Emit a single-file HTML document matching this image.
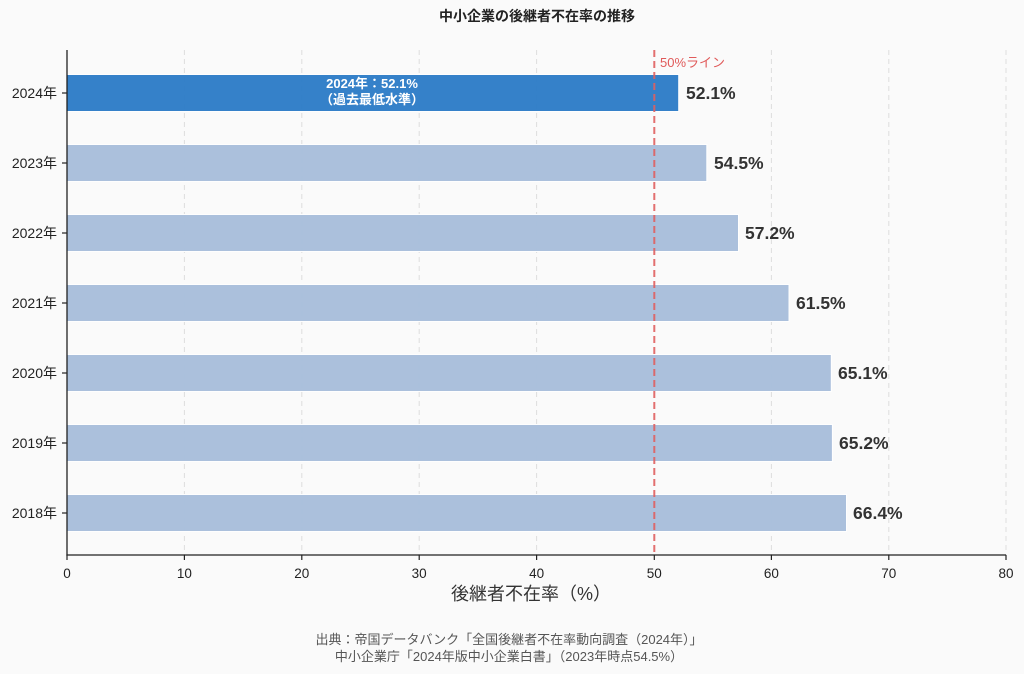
<!DOCTYPE html>
<html>
<head>
<meta charset="utf-8">
<style>
html,body{margin:0;padding:0;background:#fafafa;}
svg{display:block;}
text{font-family:"Liberation Sans","Noto Sans CJK JP",sans-serif;}
</style>
</head>
<body>
<svg width="1024" height="674" viewBox="0 0 1024 674" xmlns="http://www.w3.org/2000/svg">
<rect width="1024" height="674" fill="#fafafa"/>
<!-- title -->
<text x="537" y="21" text-anchor="middle" font-size="14" font-weight="bold" fill="#222">中小企業の後継者不在率の推移</text>

<!-- grid -->
<g stroke="#dddddd" stroke-width="1" stroke-dasharray="5,4">
<line x1="184.4" y1="50" x2="184.4" y2="555"/>
<line x1="301.8" y1="50" x2="301.8" y2="555"/>
<line x1="419.2" y1="50" x2="419.2" y2="555"/>
<line x1="536.6" y1="50" x2="536.6" y2="555"/>
<line x1="771.4" y1="50" x2="771.4" y2="555"/>
<line x1="888.8" y1="50" x2="888.8" y2="555"/>
<line x1="1006" y1="50" x2="1006" y2="555"/>
</g>

<!-- bars -->
<g stroke="#ffffff" stroke-width="1" opacity="0.97">
<rect x="67" y="74.5" width="611.7" height="37" fill="#2f7ec8"/>
<rect x="67" y="144.5" width="639.8" height="37" fill="#a9bfdc"/>
<rect x="67" y="214.5" width="671.5" height="37" fill="#a9bfdc"/>
<rect x="67" y="284.5" width="722.0" height="37" fill="#a9bfdc"/>
<rect x="67" y="354.5" width="764.3" height="37" fill="#a9bfdc"/>
<rect x="67" y="424.5" width="765.4" height="37" fill="#a9bfdc"/>
<rect x="67" y="494.5" width="779.5" height="37" fill="#a9bfdc"/>
</g>

<!-- 50% line -->
<line x1="654.3" y1="50" x2="654.3" y2="555" stroke="#e06060" stroke-width="2" stroke-dasharray="7,4" opacity="0.9"/>
<text x="660" y="67" font-size="13" fill="#e05a5a">50%ライン</text>

<!-- in-bar label -->
<text x="372" y="88" text-anchor="middle" font-size="13" font-weight="bold" fill="#ffffff">2024年：52.1%</text>
<text x="372" y="104" text-anchor="middle" font-size="13" font-weight="bold" fill="#ffffff">（過去最低水準）</text>

<!-- value labels -->
<g font-size="17.5" font-weight="bold" fill="#333">
<text x="686" y="99">52.1%</text>
<text x="714" y="169">54.5%</text>
<text x="745" y="239">57.2%</text>
<text x="796" y="309">61.5%</text>
<text x="838" y="379">65.1%</text>
<text x="839" y="449">65.2%</text>
<text x="853" y="519">66.4%</text>
</g>

<!-- spines -->
<line x1="67" y1="50" x2="67" y2="555.5" stroke="#222" stroke-width="1.3"/>
<line x1="66.4" y1="555" x2="1006" y2="555" stroke="#222" stroke-width="1.3"/>

<!-- y ticks -->
<g stroke="#222" stroke-width="1.2">
<line x1="62" y1="93" x2="67" y2="93"/>
<line x1="62" y1="163" x2="67" y2="163"/>
<line x1="62" y1="233" x2="67" y2="233"/>
<line x1="62" y1="303" x2="67" y2="303"/>
<line x1="62" y1="373" x2="67" y2="373"/>
<line x1="62" y1="443" x2="67" y2="443"/>
<line x1="62" y1="513" x2="67" y2="513"/>
</g>
<g font-size="14" fill="#222" text-anchor="end">
<text x="57" y="98">2024年</text>
<text x="57" y="168">2023年</text>
<text x="57" y="238">2022年</text>
<text x="57" y="308">2021年</text>
<text x="57" y="378">2020年</text>
<text x="57" y="448">2019年</text>
<text x="57" y="518">2018年</text>
</g>

<!-- x ticks -->
<g stroke="#222" stroke-width="1.2">
<line x1="67" y1="555" x2="67" y2="560"/>
<line x1="184.4" y1="555" x2="184.4" y2="560"/>
<line x1="301.8" y1="555" x2="301.8" y2="560"/>
<line x1="419.2" y1="555" x2="419.2" y2="560"/>
<line x1="536.6" y1="555" x2="536.6" y2="560"/>
<line x1="654.3" y1="555" x2="654.3" y2="560"/>
<line x1="771.4" y1="555" x2="771.4" y2="560"/>
<line x1="888.8" y1="555" x2="888.8" y2="560"/>
<line x1="1006" y1="555" x2="1006" y2="560"/>
</g>
<g font-size="13.5" fill="#222" text-anchor="middle">
<text x="67" y="578">0</text>
<text x="184.4" y="578">10</text>
<text x="301.8" y="578">20</text>
<text x="419.2" y="578">30</text>
<text x="536.6" y="578">40</text>
<text x="654.3" y="578">50</text>
<text x="771.4" y="578">60</text>
<text x="888.8" y="578">70</text>
<text x="1006" y="578">80</text>
</g>

<!-- x label -->
<text x="531" y="600" text-anchor="middle" font-size="18" fill="#333">後継者不在率（%）</text>

<!-- source -->
<text x="509" y="644" text-anchor="middle" font-size="13" fill="#555">出典：帝国データバンク「全国後継者不在率動向調査（2024年）」</text>
<text x="509" y="661" text-anchor="middle" font-size="13" fill="#555">中小企業庁「2024年版中小企業白書」（2023年時点54.5%）</text>
</svg>
</body>
</html>
